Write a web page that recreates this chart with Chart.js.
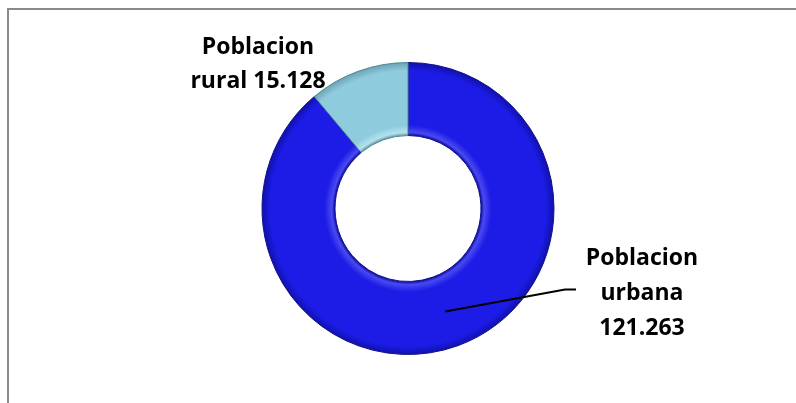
<!DOCTYPE html>
<html>
<head>
<meta charset="utf-8">
<script src="https://cdn.jsdelivr.net/npm/chart.js"></script>
<style>
  html, body { margin: 0; padding: 0; background: #fff; }
  #wrap { position: relative; width: 796px; height: 403px; overflow: hidden; }
  #frame { position: absolute; left: 7px; top: 8px; width: 800px; height: 400px;
           border-left: 2px solid #8a8a8a; border-top: 2px solid #8a8a8a; }
  #chart { position: absolute; left: 0; top: 0; }
</style>
</head>
<body>
<div id="wrap">
  <div id="frame"></div>
  <canvas id="chart" width="796" height="403"></canvas>
</div>
<script>
// data
const categories = ['Poblacion urbana', 'Poblacion rural'];
const values = [121263, 15128];
const colors = ['#1c1ce6', '#8ecbdc'];
const edgeColors = ['#1010a8', '#6aa2b2'];
const innerLight = ['#4a4af0', '#b4e2ee'];

// thousands separator with a dot, as in the source
function fmt(n) {
  return String(n).replace(/\B(?=(\d{3})+(?!\d))/g, '.');
}

// label text: urbana on three lines, rural on two
function labelLines(i) {
  const w = categories[i].split(' ');
  if (i === 0) return [w[0], w[1], fmt(values[i])];
  return [w[0], w[1] + ' ' + fmt(values[i])];
}

// soft bevel across the ring, built from the chart area
function ringFill(c) {
  const a = c.chart.chartArea;
  if (!a) return colors[c.dataIndex];
  const cx = (a.left + a.right) / 2, cy = (a.top + a.bottom) / 2;
  const outer = Math.min(a.right - a.left, a.bottom - a.top) / 2;
  const inner = outer * 0.5;
  const g = c.chart.ctx.createRadialGradient(cx, cy, inner, cx, cy, outer);
  const i = c.dataIndex;
  g.addColorStop(0, edgeColors[i]);
  g.addColorStop(0.04, innerLight[i]);
  g.addColorStop(0.14, colors[i]);
  g.addColorStop(0.88, colors[i]);
  g.addColorStop(1, edgeColors[i]);
  return g;
}

const sliceLabels = {
  id: 'sliceLabels',
  afterDatasetsDraw(chart) {
    const ctx = chart.ctx;
    const arcs = chart.getDatasetMeta(0).data;
    const cx = arcs[0].x, cy = arcs[0].y;
    ctx.save();
    ctx.fillStyle = '#000';
    ctx.font = 'bold 23px "Open Sans"';
    ctx.textAlign = 'center';
    ctx.textBaseline = 'alphabetic';

    // urbana: leader line from slice centroid, text to the right
    const p = arcs[0].getCenterPoint();
    ctx.strokeStyle = '#000';
    ctx.lineWidth = 2;
    ctx.beginPath();
    ctx.moveTo(p.x, p.y);
    ctx.lineTo(cx + 157, cy + 81);
    ctx.lineTo(cx + 168, cy + 81);
    ctx.stroke();
    labelLines(0).forEach((t, k) => ctx.fillText(t, cx + 234, cy + 56 + k * 35));

    // rural: text top-left of the slice
    labelLines(1).forEach((t, k) => ctx.fillText(t, cx - 150, cy - 155 + k * 34));
    ctx.restore();
  }
};

new Chart(document.getElementById('chart').getContext('2d'), {
  type: 'doughnut',
  data: {
    labels: categories,
    datasets: [{
      data: values,
      backgroundColor: ringFill,
      borderColor: ['#10108a', '#4f8696'],
      borderWidth: 1
    }]
  },
  options: {
    responsive: false,
    animation: false,
    cutout: '50%',
    layout: { padding: { left: 20, right: 0, top: 62, bottom: 48 } },
    plugins: {
      legend: { display: false },
      tooltip: { enabled: false }
    }
  },
  plugins: [sliceLabels]
});
</script>
</body>
</html>
